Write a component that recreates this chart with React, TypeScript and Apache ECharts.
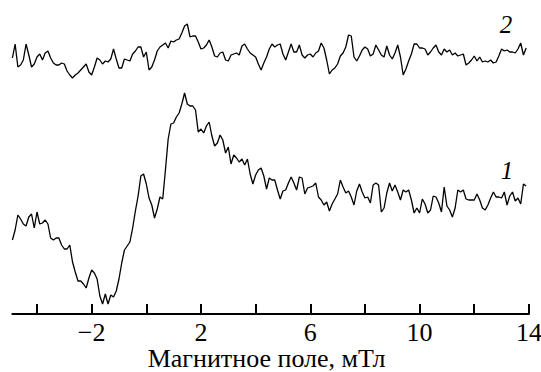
import React, { useEffect, useRef } from "react";
import * as echarts from "echarts";

// Magnetic field axis (mT): spectra sampled every 0.1 mT starting at -4.9
const FIELD_START = -4.9;
const FIELD_STEP = 0.1;

// Spectrum 1 (arbitrary intensity units, lower trace)
const spectrum1 = [
  74, 84, 99, 95, 90, 88, 97, 100, 86, 102,
  90, 91, 94, 90, 76, 74, 76, 76, 69, 65,
  65, 69, 52, 42, 33, 33, 30, 26, 36, 44,
  41, 35, 18, 10, 20, 10, 19, 17, 23, 35,
  51, 64, 68, 72, 86, 103, 118, 138, 140, 130,
  116, 109, 96, 105, 117, 115, 144, 175, 190, 191,
  197, 201, 210, 221, 210, 208, 208, 204, 182, 185,
  181, 188, 192, 178, 168, 171, 179, 174, 161, 167,
  150, 159, 156, 152, 155, 149, 155, 140, 130, 139,
  144, 146, 138, 125, 136, 134, 134, 124, 115, 123,
  124, 131, 137, 131, 124, 137, 136, 120, 126, 127,
  128, 131, 117, 114, 109, 112, 103, 110, 115, 120,
  134, 127, 121, 123, 117, 109, 123, 130, 122, 116,
  117, 111, 129, 131, 129, 102, 106, 121, 131, 123,
  129, 122, 114, 124, 122, 124, 114, 101, 106, 101,
  115, 110, 101, 104, 118, 117, 111, 102, 127, 108,
  104, 97, 106, 124, 122, 124, 115, 114, 114, 114,
  120, 114, 106, 104, 109, 116, 122, 117, 117, 116,
  122, 109, 118, 122, 113, 116, 110, 130, 128,
];

// Spectrum 2 (arbitrary intensity units, upper trace)
const spectrum2 = [
  256, 270, 247, 249, 254, 270, 259, 247, 250, 257,
  260, 254, 261, 263, 256, 251, 249, 249, 251, 250,
  243, 239, 236, 239, 241, 244, 247, 250, 242, 239,
  247, 256, 254, 250, 253, 252, 255, 265, 255, 246,
  246, 255, 254, 253, 260, 263, 267, 267, 257, 262,
  244, 247, 254, 263, 267, 269, 271, 266, 273, 272,
  274, 275, 281, 288, 290, 277, 278, 278, 272, 265,
  266, 269, 274, 267, 258, 257, 261, 262, 254, 253,
  259, 260, 261, 259, 268, 270, 265, 261, 259, 257,
  250, 244, 251, 257, 265, 270, 267, 269, 270, 260,
  254, 262, 270, 262, 262, 269, 259, 256, 259, 260,
  257, 261, 263, 271, 266, 254, 240, 244, 246, 250,
  258, 261, 267, 279, 278, 257, 253, 258, 264, 267,
  265, 258, 260, 269, 264, 259, 257, 268, 259, 255,
  261, 269, 257, 239, 245, 253, 260, 270, 270, 266,
  266, 265, 259, 262, 266, 269, 262, 259, 265, 262,
  264, 259, 261, 258, 259, 260, 249, 251, 254, 258,
  253, 257, 252, 253, 252, 254, 251, 252, 258, 265,
  263, 264, 262, 262, 261, 265, 271, 259, 266,
];

const tickValues = [-4, -2, 0, 2, 4, 6, 8, 10, 12, 14];
const labelValues = [-2, 2, 6, 10, 14];
const xTitle = "Магнитное поле, мТл";
const curveLabels = ["1", "2"];

const SERIF = "Liberation Serif";

const toPairs = (arr: number[]) =>
  arr.map((v, i) => [Number((FIELD_START + i * FIELD_STEP).toFixed(2)), v]);

export default function App() {
  const ref = useRef<HTMLDivElement>(null);
  useEffect(() => {
    document.body.style.margin = "0";
    document.body.style.overflow = "hidden";
    if (!ref.current) return;
    const chart = echarts.init(ref.current, undefined, { renderer: "svg" });
    chart.setOption({
      animation: false,
      backgroundColor: "#ffffff",
      grid: { left: 12.4, right: 12.1, top: 0, bottom: 58, containLabel: false },
      xAxis: {
        type: "value",
        min: FIELD_START,
        max: 14,
        splitLine: { show: false },
        axisLine: { show: true, onZero: false, lineStyle: { color: "#000", width: 2 } },
        axisTick: {
          show: true,
          inside: true,
          length: 10,
          customValues: tickValues,
          lineStyle: { color: "#000", width: 2 },
        },
        axisLabel: { show: false },
      },
      yAxis: {
        type: "value",
        min: 0,
        max: 314,
        show: false,
        splitLine: { show: false },
      },
      series: [
        {
          type: "line",
          data: toPairs(spectrum1),
          showSymbol: false,
          lineStyle: { color: "#000", width: 1.3 },
        },
        {
          type: "line",
          data: toPairs(spectrum2),
          showSymbol: false,
          lineStyle: { color: "#000", width: 1.3 },
        },
      ],
    });

    // Tick labels and axis title, placed through the axis scale
    const xPix = (v: number) => chart.convertToPixel({ xAxisIndex: 0 }, v) as number;
    const tickLabelEls = labelValues.map((v) => ({
      type: "text",
      x: xPix(v),
      y: 332,
      style: {
        text: String(v).replace("-", "\u2212"),
        fontFamily: SERIF,
        fontSize: 26,
        fill: "#000",
        align: "center",
        verticalAlign: "middle",
      },
    }));
    const titleEl = {
      type: "text",
      x: (xPix(FIELD_START) + xPix(14)) / 2 - 4,
      y: 358.5,
      style: {
        text: xTitle,
        fontFamily: SERIF,
        fontSize: 26,
        fill: "#000",
        align: "center",
        verticalAlign: "middle",
      },
    };
    const curveLabelEls = [
      { text: curveLabels[0], x: 507, y: 170 },
      { text: curveLabels[1], x: 506, y: 24 },
    ].map((c) => ({
      type: "text",
      x: c.x,
      y: c.y,
      style: {
        text: c.text,
        fontFamily: SERIF,
        fontSize: 25,
        fontStyle: "italic",
        fill: "#000",
        align: "center",
        verticalAlign: "middle",
      },
    }));
    chart.setOption({ graphic: [...tickLabelEls, titleEl, ...curveLabelEls] });

    return () => chart.dispose();
  }, []);
  return <div ref={ref} style={{ width: 541, height: 372 }} />;
}
